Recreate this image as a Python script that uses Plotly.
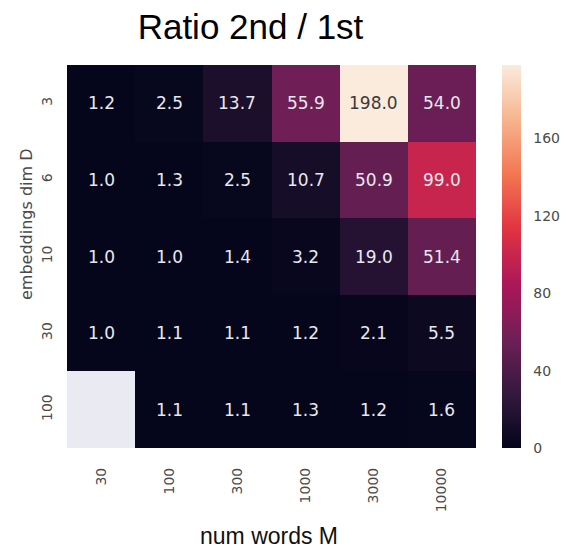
import plotly.graph_objects as go

# ---- data ----
num_words = ["30", "100", "300", "1000", "3000", "10000"]
emb_dims = ["3", "6", "10", "30", "100"]
row_d3 = [1.2, 2.5, 13.7, 55.9, 198.0, 54.0]
row_d6 = [1.0, 1.3, 2.5, 10.7, 50.9, 99.0]
row_d10 = [1.0, 1.0, 1.4, 3.2, 19.0, 51.4]
row_d30 = [1.0, 1.1, 1.1, 1.2, 2.1, 5.5]
row_d100 = [None, 1.1, 1.1, 1.3, 1.2, 1.6]
cbar_ticks = [0, 40, 80, 120, 160]

z = [row_d3, row_d6, row_d10, row_d30, row_d100]

rocket = [
    [0.0, "#03051a"],
    [1 / 7, "#35193e"],
    [2 / 7, "#701f57"],
    [3 / 7, "#ad1759"],
    [4 / 7, "#e13342"],
    [5 / 7, "#f37651"],
    [6 / 7, "#f6b48f"],
    [1.0, "#faebdd"],
]
zmin, zmax = 0.0, 198.0

# the page body has an 8px margin, so the figure is sized to fill the rest
OFF = 8
W, H = 568 - OFF, 552 - OFF
PL, PT, PR, PB = 67 - OFF, 65 - OFF, 476 - OFF, 448 - OFF
PW, PH = PR - PL, PB - PT

fig = go.Figure(
    go.Heatmap(
        x=num_words,
        y=emb_dims,
        z=z,
        colorscale=rocket,
        zmin=zmin,
        zmax=zmax,
        hoverongaps=False,
        colorbar=dict(
            thickness=19,
            thicknessmode="pixels",
            len=1,
            lenmode="fraction",
            x=1 + (502 - 476) / PW,
            xanchor="left",
            xpad=0,
            y=0.5,
            yanchor="middle",
            ypad=0,
            outlinewidth=0,
            tickvals=cbar_ticks,
            ticks="outside",
            ticklen=10,
            tickcolor="rgba(0,0,0,0)",
            tickfont=dict(family="DejaVu Sans", size=14, color="#4a4a4a"),
        ),
    )
)

annotations = []
for i, r in enumerate(z):
    for j, v in enumerate(r):
        if v is None:
            continue
        frac = (v - zmin) / (zmax - zmin)
        color = "#3a3a3a" if frac > 0.6 else "#e8e8ee"
        annotations.append(
            dict(
                x=j,
                y=i,
                xref="x",
                yref="y",
                text=f"{v:.1f}",
                showarrow=False,
                font=dict(family="DejaVu Sans", size=17, color=color),
            )
        )

# axis titles
annotations.append(
    dict(
        text="num words M",
        xref="paper",
        yref="paper",
        x=(269 - 67) / PW,
        y=(448 - 536) / PH,
        xanchor="center",
        yanchor="middle",
        showarrow=False,
        font=dict(family="Liberation Sans", size=23, color="#111111"),
    )
)
annotations.append(
    dict(
        text="embeddings dim D",
        xref="paper",
        yref="paper",
        x=(26 - 67) / PW,
        y=(448 - 224) / PH,
        xanchor="center",
        yanchor="middle",
        textangle=-90,
        showarrow=False,
        font=dict(family="DejaVu Sans", size=16, color="#4a4a4a"),
    )
)

fig.update_layout(
    width=W,
    height=H,
    margin=dict(l=PL, r=W - PR, t=PT, b=H - PB, pad=0, autoexpand=False),
    paper_bgcolor="white",
    plot_bgcolor="#EAEAF2",
    title=dict(
        text="Ratio 2nd / 1st",
        xref="container",
        yref="container",
        x=(250.5 - OFF) / W,
        xanchor="center",
        y=1 - (27 - OFF) / H,
        yanchor="middle",
        font=dict(family="Liberation Sans", size=35, color="#000000"),
    ),
    annotations=annotations,
    showlegend=False,
)
fig.update_xaxes(
    type="category",
    range=[-0.5, len(num_words) - 0.5],
    showgrid=False,
    zeroline=False,
    showline=False,
    ticks="",
    tickangle=-90,
    ticklabelstandoff=16,
    tickfont=dict(family="DejaVu Sans", size=14, color="#4a4a4a"),
    automargin=False,
)
fig.update_yaxes(
    type="category",
    range=[len(emb_dims) - 0.5, -0.5],
    showgrid=False,
    zeroline=False,
    showline=False,
    ticks="",
    tickangle=-90,
    ticklabelstandoff=11,
    tickfont=dict(family="DejaVu Sans", size=14, color="#4a4a4a"),
    automargin=False,
)

fig.write_html("out.html")
